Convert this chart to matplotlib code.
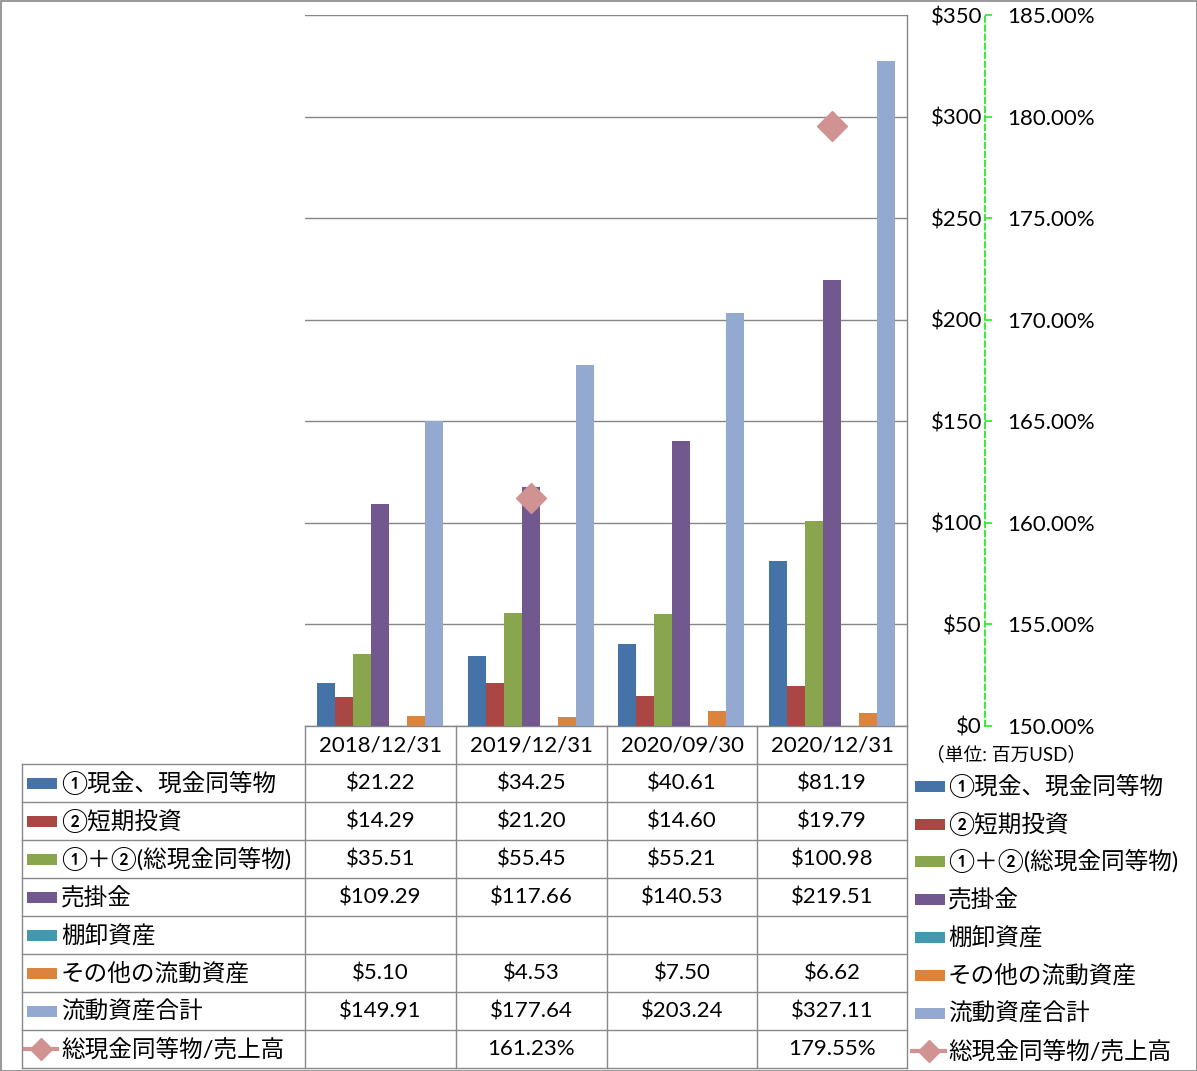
import numpy as np
import matplotlib
matplotlib.use("Agg")
import matplotlib.pyplot as plt
from matplotlib.patches import Rectangle

# data
dates = ["2018/12/31", "2019/12/31", "2020/09/30", "2020/12/31"]
series_names = ["①現金、現金同等物", "②短期投資", "①＋②(総現金同等物)", "売掛金",
                "棚卸資産", "その他の流動資産", "流動資産合計"]
cash = [21.22, 34.25, 40.61, 81.19]
short_inv = [14.29, 21.20, 14.60, 19.79]
total_cash = [35.51, 55.45, 55.21, 100.98]
receivable = [109.29, 117.66, 140.53, 219.51]
inventory = [np.nan, np.nan, np.nan, np.nan]
other_cur = [5.10, 4.53, 7.50, 6.62]
total_cur = [149.91, 177.64, 203.24, 327.11]
ratio_name = "総現金同等物/売上高"
ratio = [np.nan, 161.23, np.nan, 179.55]
left_ticks = [0, 50, 100, 150, 200, 250, 300, 350]
right_ticks = [150, 155, 160, 165, 170, 175, 180, 185]

colors = ["#4572A7", "#AA4643", "#89A54E", "#71588F", "#4198AF", "#DB843D", "#93A9CF"]
ratio_color = "#D19392"
grid_c = "#868686"
fam = ["Lato", "Noto Sans CJK JP"]
FS = 16
FSJ = 17
plt.rcParams["font.family"] = fam
plt.rcParams["font.size"] = FS

W, H = 1197, 1071
fig = plt.figure(figsize=(W / 100, H / 100), dpi=100)

# plot area in pixels: x 305..907, y 15..726
L, R, T, B = 305, 907, 15, 726
ax = fig.add_axes([L / W, 1 - B / H, (R - L) / W, (B - T) / H])
all_series = [cash, short_inv, total_cash, receivable, inventory, other_cur, total_cur]
x = np.arange(len(dates))
bw = 0.12
for k, vals in enumerate(all_series):
    ax.bar(x + (k - 3) * bw, vals, width=bw, color=colors[k], linewidth=0, zorder=3)
ax.set_xlim(-0.5, 3.5)
ax.set_ylim(0, 350)
ax.set_xticks([])
ax.grid(axis="y", color=grid_c, lw=1, zorder=0)
for s in ax.spines.values():
    s.set_color(grid_c)
    s.set_linewidth(1)
ax.spines["left"].set_visible(False)
ax.spines["top"].set_visible(False)

ax2 = ax.twinx()
ax2.set_ylim(150, 185)
ax2.plot(x, ratio, marker="D", ms=15, color=ratio_color, lw=2.5, zorder=5)
ax2.set_yticks(right_ticks)
ax2.set_yticklabels([f"{t:.2f}%" for t in right_ticks])
for side in ["left", "top", "bottom"]:
    ax2.spines[side].set_visible(False)
ax2.spines["right"].set_position(("axes", (985 - L) / (R - L)))
ax2.spines["right"].set_color("#22EE22")
ax2.spines["right"].set_linewidth(1.3)
ax2.spines["right"].set_linestyle((0, (3, 2)))
ax2.tick_params(axis="y", direction="out", length=5, width=1.2, color="#22EE22",
                pad=11, labelsize=FS)
for t in ax2.yaxis.get_ticklines():
    t.set_linestyle("--")

# primary labels on the right, right aligned next to the green axis
ax.yaxis.tick_right()
ax.set_yticks(left_ticks)
ax.set_yticklabels([f"${t}" for t in left_ticks])
ax.tick_params(axis="y", length=0, pad=54, labelsize=FS)
for lbl in ax.get_yticklabels():
    lbl.set_horizontalalignment("right")

# data table and legend, drawn in pixel coords
ov = fig.add_axes([0, 0, 1, 1])
ov.set_xlim(0, W)
ov.set_ylim(H, 0)
ov.axis("off")

col_edges = [305, 456, 607, 757, 907]
row_edges = [726, 764, 802, 840, 878, 916, 954, 992, 1030, 1068]
lc = "#898989"
for xe in col_edges:
    ov.plot([xe, xe], [726, 1068], color=lc, lw=1)
ov.plot([22, 22], [764, 1068], color=lc, lw=1)
for ye in row_edges[1:]:
    ov.plot([22, 907], [ye, ye], color=lc, lw=1)
# frame of the whole chart
ov.add_patch(Rectangle((0.5, 0.5), W - 1, H - 1, fill=False, ec="#868686", lw=1.2))

col_c = [(col_edges[i] + col_edges[i + 1]) / 2 for i in range(4)]
row_c = [(row_edges[i] + row_edges[i + 1]) / 2 for i in range(len(row_edges) - 1)]

for i, d in enumerate(dates):
    ov.text(col_c[i], row_c[0], d, ha="center", va="center", fontsize=FS)

for k, name in enumerate(series_names):
    yc = row_c[k + 1]
    ov.add_patch(Rectangle((27, yc - 5.5), 30, 11, color=colors[k], lw=0))
    ov.text(61, yc, name, ha="left", va="center", fontsize=FSJ)
    for i, v in enumerate(all_series[k]):
        if not np.isnan(v):
            ov.text(col_c[i], yc, f"${v:.2f}", ha="center", va="center", fontsize=FS)
yc = row_c[8]
ov.plot([25, 57], [yc, yc], color=ratio_color, lw=3)
ov.plot([41], [yc], marker="D", ms=11, color=ratio_color)
ov.text(61, yc, ratio_name, ha="left", va="center", fontsize=FSJ)
for i, v in enumerate(ratio):
    if not np.isnan(v):
        ov.text(col_c[i], yc, f"{v:.2f}%", ha="center", va="center", fontsize=FS)

# right legend
ov.text(926, 754, "（単位: 百万USD）", ha="left", va="center", fontsize=13.5)
leg_y = [786, 824, 861, 899, 937, 975, 1013, 1051]
for k, name in enumerate(series_names):
    ov.add_patch(Rectangle((915, leg_y[k] - 5.5), 30, 11, color=colors[k], lw=0))
    ov.text(948, leg_y[k], name, ha="left", va="center", fontsize=FSJ)
ov.plot([912, 945], [leg_y[7], leg_y[7]], color=ratio_color, lw=3)
ov.plot([929], [leg_y[7]], marker="D", ms=11, color=ratio_color)
ov.text(948, leg_y[7], ratio_name, ha="left", va="center", fontsize=FSJ)

plt.savefig("out.png", dpi=100)
